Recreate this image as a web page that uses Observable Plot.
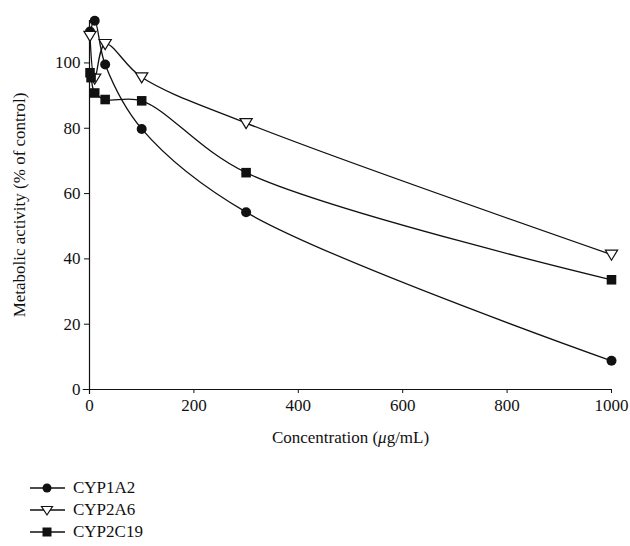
<!DOCTYPE html>
<html>
<head>
<meta charset="utf-8">
<script src="https://cdn.jsdelivr.net/npm/d3@7"></script>
<script src="https://cdn.jsdelivr.net/npm/@observablehq/plot@0.6"></script>
<style>
  body { margin: 0; background: #fff; }
  #chart { width: 630px; font-family: "Liberation Serif", "DejaVu Serif", serif; }
  #chart svg text { font-family: "Liberation Serif", "DejaVu Serif", serif; }
  .legend { margin-left: 30px; margin-top: 15px; font-family: "Liberation Serif", "DejaVu Serif", serif; font-size: 17px; color: #111; }
  .legend .row { display: flex; align-items: center; height: 22px; }
  .legend svg { margin-right: 7px; }
</style>
</head>
<body>
<div id="chart"></div>
<script>
const seriesNames = ["CYP1A2", "CYP2A6", "CYP2C19"];
const concCYP1A2 = [1, 10, 30, 100, 300, 1000];
const valsCYP1A2 = [109.6, 112.9, 99.5, 79.8, 54.3, 8.8];
const concCYP2A6 = [1, 10, 30, 100, 300, 1000];
const valsCYP2A6 = [108.3, 95.2, 105.8, 95.6, 81.6, 41.3];
const concCYP2C19 = [1, 3, 10, 30, 100, 300, 1000];
const valsCYP2C19 = [97, 95.5, 90.8, 88.8, 88.4, 66.4, 33.6];
const xTicks = [0, 200, 400, 600, 800, 1000];
const yTicks = [0, 20, 40, 60, 80, 100];

const mk = (c, v, name) => c.map((x, i) => ({conc: x, value: v[i], series: name}));
const d1 = mk(concCYP1A2, valsCYP1A2, seriesNames[0]);
const d2 = mk(concCYP2A6, valsCYP2A6, seriesNames[1]);
const d3s = mk(concCYP2C19, valsCYP2C19, seriesNames[2]);

const triangleDown = {
  draw(context, size) {
    const r = Math.sqrt(size / Math.PI);
    context.moveTo(0, r * 1.05);
    context.lineTo(-r * 1.15, -r * 0.85);
    context.lineTo(r * 1.15, -r * 0.85);
    context.closePath();
  }
};

const serif = "'Liberation Serif', 'DejaVu Serif', serif";
const lineOpts = {x: "conc", y: "value", curve: "catmull-rom", stroke: "#111", strokeWidth: 1.3};

const plot = Plot.plot({
  width: 630,
  height: 462,
  marginLeft: 89,
  marginRight: 19,
  marginTop: 20,
  marginBottom: 73,
  style: {fontFamily: serif, fontSize: "17px", color: "#111"},
  x: {domain: [0, 1000]},
  y: {domain: [0, 113]},
  marks: [
    Plot.axisX({ticks: xTicks, tickFormat: d => String(d), tickSize: 4, tickPadding: 5, label: "Concentration (μg/mL)", labelAnchor: "center", labelArrow: "none", labelOffset: 53, fontSize: 17}),
    Plot.axisY({ticks: yTicks, tickFormat: d => String(d), tickSize: 5, tickPadding: 4, label: "Metabolic activity (% of control)", labelAnchor: "center", labelArrow: "none", labelOffset: 77, fontSize: 17}),
    Plot.ruleX([0], {y1: -1.5, y2: 113, stroke: "#111", strokeWidth: 1.2}),
    Plot.ruleY([0], {x1: -12, x2: 1000, stroke: "#111", strokeWidth: 1.2}),
    Plot.line(d1, lineOpts),
    Plot.line(d2, lineOpts),
    Plot.line(d3s, lineOpts),
    Plot.dot(d1, {x: "conc", y: "value", r: 5, fill: "#111", stroke: "none", symbol: "circle"}),
    Plot.dot(d2, {x: "conc", y: "value", r: 5.3, fill: "white", stroke: "#111", strokeWidth: 1.2, symbol: triangleDown}),
    Plot.dot(d3s, {x: "conc", y: "value", r: 5.4, fill: "#111", stroke: "none", symbol: "square"})
  ]
});

plot.querySelectorAll("text").forEach(t => t.setAttribute("font-family", serif.replace(/'/g, '"')));

const lab = plot.querySelector('g[aria-label="x-axis label"] text');
if (lab) {
  lab.textContent = "";
  const ns = "http://www.w3.org/2000/svg";
  const parts = [["Concentration (", null], ["μ", "italic"], ["g/mL)", null]];
  for (const [t, st] of parts) {
    const ts = document.createElementNS(ns, "tspan");
    ts.textContent = t;
    if (st) ts.setAttribute("font-style", st);
    lab.appendChild(ts);
  }
}

const chart = document.getElementById("chart");
chart.appendChild(plot);

const legend = document.createElement("div");
legend.className = "legend";
const markers = {
  CYP1A2: '<circle cx="17" cy="8" r="4.5" fill="#111"/>',
  CYP2A6: '<path d="M11.5 4.5 L22.5 4.5 L17 13 Z" fill="white" stroke="#111" stroke-width="1.2"/>',
  CYP2C19: '<rect x="12.5" y="3.5" width="9" height="9" fill="#111"/>'
};
for (const name of seriesNames) {
  const row = document.createElement("div");
  row.className = "row";
  row.innerHTML = `<svg width="36" height="16"><line x1="0" y1="8" x2="35" y2="8" stroke="#111" stroke-width="1.3"/>${markers[name]}</svg><span>${name}</span>`;
  legend.appendChild(row);
}
chart.appendChild(legend);
</script>
</body>
</html>
